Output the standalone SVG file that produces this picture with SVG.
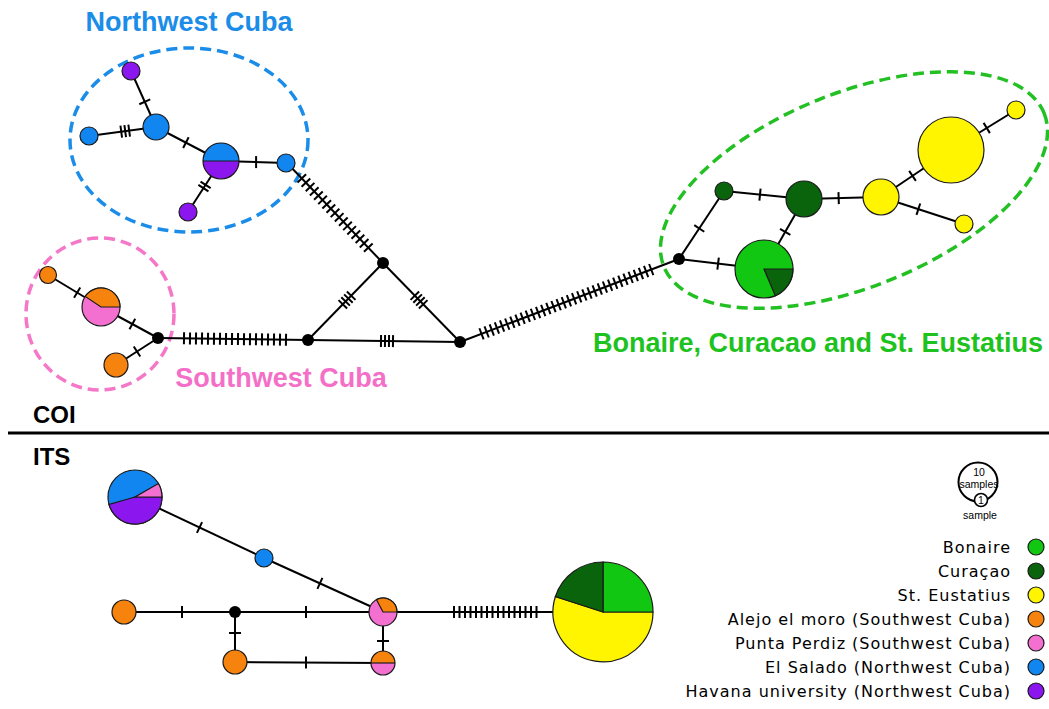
<svg xmlns="http://www.w3.org/2000/svg" width="1049" height="709" viewBox="0 0 1049 709">
<style>
.e{stroke:#000;stroke-width:2;fill:none}
.t1{stroke:#000;stroke-width:12;fill:none}
.tm{stroke:#000;stroke-width:12;fill:none}
.n{stroke:#1a1a1a;stroke-width:1.2}
.blk{fill:#000}
.bl{fill:#1185f0}
.pu{fill:#8b16ee}
.or{fill:#f7830f}
.pk{fill:#f470d0}
.lg{fill:#12c712}
.dg{fill:#0a640c}
.ye{fill:#fff500}
.ttl{font-family:"Liberation Sans",Arial,sans-serif;font-weight:bold;font-size:27px}
.sec{font-family:"Liberation Sans",Arial,sans-serif;font-weight:bold;font-size:24px;fill:#000}
.leg{font-family:"DejaVu Sans",Verdana,sans-serif;font-size:16px;letter-spacing:1px;fill:#000;text-anchor:end}
.sm{font-family:"Liberation Sans",Arial,sans-serif;font-size:10.5px;fill:#000;text-anchor:middle}
.hull{fill:none;stroke-width:3.5;stroke-dasharray:11 6}
</style>
<rect width="1049" height="709" fill="#fff"/>

<!-- cluster outlines and titles -->
<g id="northwest-cuba-group">
<ellipse cx="189" cy="140" rx="119" ry="92" class="hull" stroke="#1b8de8"/>
<text x="189" y="31" class="ttl" fill="#1b8de8" text-anchor="middle">Northwest Cuba</text>
</g>
<g id="southwest-cuba-group">
<ellipse cx="100" cy="314" rx="74" ry="76" class="hull" stroke="#f477c8"/>
<text x="281" y="387" class="ttl" fill="#f46fc8" text-anchor="middle">Southwest Cuba</text>
</g>
<g id="abc-group">
<ellipse cx="854" cy="190" rx="205" ry="97" transform="rotate(-22 854 190)" class="hull" stroke="#22c022"/>
<text x="818" y="352" class="ttl" fill="#1ec21e" text-anchor="middle">Bonaire, Curacao and St. Eustatius</text>
</g>

<!-- section labels -->
<g id="sections">
<text x="33" y="423" class="sec">COI</text>
<line x1="8" y1="433" x2="1049" y2="433" stroke="#000" stroke-width="3"/>
<text x="33" y="465" class="sec">ITS</text>
</g>

<!-- connectors -->
<g id="connectors">
<!-- COI edges -->
<line class="e" x1="131" y1="71" x2="156" y2="127"/>
<line class="e" x1="89" y1="136" x2="156" y2="127"/>
<line class="e" x1="156" y1="127" x2="221" y2="161"/>
<line class="e" x1="221" y1="161" x2="286" y2="163"/>
<line class="e" x1="221" y1="161" x2="188" y2="212"/>
<line class="e" x1="48" y1="275" x2="101" y2="307"/>
<line class="e" x1="101" y1="307" x2="158" y2="338"/>
<line class="e" x1="116" y1="365" x2="158" y2="338"/>
<line class="e" x1="158" y1="338" x2="308" y2="340"/>
<line class="e" x1="287" y1="163" x2="383" y2="263"/>
<line class="e" x1="308" y1="340" x2="383" y2="263"/>
<line class="e" x1="383" y1="263" x2="460" y2="342"/>
<line class="e" x1="308" y1="340" x2="460" y2="342"/>
<line class="e" x1="460" y1="342" x2="679" y2="259"/>
<line class="e" x1="679" y1="259" x2="724" y2="191"/>
<line class="e" x1="724" y1="191" x2="804" y2="199"/>
<line class="e" x1="679" y1="259" x2="764" y2="269"/>
<line class="e" x1="804" y1="199" x2="764" y2="269"/>
<line class="e" x1="804" y1="199" x2="881" y2="197"/>
<line class="e" x1="881" y1="197" x2="951" y2="150"/>
<line class="e" x1="951" y1="150" x2="1016" y2="110"/>
<line class="e" x1="881" y1="197" x2="964" y2="224"/>
<!-- COI ticks -->
<line class="t1" x1="144.34" y1="100.89" x2="145.16" y2="102.71"/>
<line class="t1" x1="120.25" y1="131.77" x2="130.15" y2="130.43" stroke-dasharray="2 2"/>
<line class="t1" x1="185.01" y1="142.14" x2="186.79" y2="143.06"/>
<line class="t1" x1="255.1" y1="162.1" x2="257.1" y2="162.1"/>
<line class="t1" x1="206.13" y1="183.98" x2="202.87" y2="189.02" stroke-dasharray="2 2"/>
<line class="t1" x1="76.29" y1="292.08" x2="78.01" y2="293.12"/>
<line class="t1" x1="131.47" y1="323.57" x2="133.23" y2="324.53"/>
<line class="t1" x1="136.16" y1="352.04" x2="137.84" y2="350.96"/>
<line class="tm" x1="183" y1="338.33" x2="287" y2="339.72" stroke-dasharray="2 4"/>
<line class="tm" x1="301.07" y1="177.64" x2="368.98" y2="248.29" stroke-dasharray="2 4"/>
<line class="tm" x1="342.11" y1="305.01" x2="351.89" y2="294.99" stroke-dasharray="2 2"/>
<line class="tm" x1="414.11" y1="294.99" x2="423.89" y2="305.01" stroke-dasharray="2 2"/>
<line class="tm" x1="380" y1="340.95" x2="394" y2="341.13" stroke-dasharray="2 2"/>
<line class="tm" x1="480.57" y1="334.21" x2="652.14" y2="269.25" stroke-dasharray="2 3.5"/>
<line class="t1" x1="698.70" y1="229.23" x2="699.80" y2="227.57"/>
<line class="t1" x1="759" y1="194.5" x2="761" y2="194.7"/>
<line class="t1" x1="717.1" y1="263.48" x2="719.1" y2="263.72"/>
<line class="t1" x1="785.7" y1="231.03" x2="784.7" y2="232.77"/>
<line class="t1" x1="837.65" y1="198.13" x2="839.65" y2="198.07"/>
<line class="t1" x1="911.67" y1="176.41" x2="913.33" y2="175.29"/>
<line class="t1" x1="985.9" y1="128.52" x2="987.6" y2="127.48"/>
<line class="t1" x1="917.4" y1="208.84" x2="919.3" y2="209.46"/>
<!-- ITS edges -->
<line class="e" x1="135" y1="497" x2="264" y2="558"/>
<line class="e" x1="264" y1="558" x2="383" y2="612"/>
<line class="e" x1="124" y1="612" x2="383" y2="612"/>
<line class="e" x1="235" y1="612" x2="235" y2="662"/>
<line class="e" x1="235" y1="662" x2="383" y2="663"/>
<line class="e" x1="383" y1="612" x2="383" y2="663"/>
<line class="e" x1="383" y1="612" x2="560" y2="612"/>
<!-- ITS ticks -->
<line class="t1" x1="198.6" y1="527.07" x2="200.4" y2="527.93"/>
<line class="t1" x1="319" y1="582.99" x2="320.8" y2="583.81"/>
<line class="t1" x1="181" y1="612" x2="183" y2="612"/>
<line class="t1" x1="305" y1="612" x2="307" y2="612"/>
<line class="t1" x1="235" y1="632" x2="235" y2="634"/>
<line class="t1" x1="305" y1="662.5" x2="307" y2="662.5"/>
<line class="t1" x1="383" y1="640" x2="383" y2="642"/>
<line class="tm" x1="453" y1="612" x2="537.5" y2="612" stroke-dasharray="2 3.5"/>
</g>

<!-- COI nodes -->
<g id="coi-nw-purple-top"><circle cx="131" cy="71" r="9" class="n pu"/></g>
<g id="coi-nw-blue-left"><circle cx="89" cy="136" r="9" class="n bl"/></g>
<g id="coi-nw-blue-hub"><circle cx="156" cy="127" r="13" class="n bl"/></g>
<g id="coi-nw-mixed">
<circle cx="221" cy="161" r="18" class="pu"/>
<path d="M203,161 A18,18 0 0,1 239,161 Z" class="bl"/>
<circle cx="221" cy="161" r="18" class="n" fill="none"/>
<line x1="203" y1="161" x2="239" y2="161" class="n"/>
</g>
<g id="coi-nw-blue-right"><circle cx="286" cy="163" r="9" class="n bl"/></g>
<g id="coi-nw-purple-bottom"><circle cx="188" cy="212" r="9" class="n pu"/></g>

<g id="coi-sw-orange-top"><circle cx="48" cy="275" r="8.5" class="n or"/></g>
<g id="coi-sw-mixed">
<circle cx="101" cy="307" r="19" class="n pk"/>
<path d="M101,307 L120,307 A19,19 0 0,0 85.2,296.4 Z" class="n or"/>
</g>
<g id="coi-sw-orange-bottom"><circle cx="116" cy="365" r="12" class="n or"/></g>
<g id="coi-med-1"><circle cx="158" cy="338" r="6" class="blk"/></g>
<g id="coi-med-2"><circle cx="308" cy="340" r="6" class="blk"/></g>
<g id="coi-med-3"><circle cx="383" cy="263" r="6" class="blk"/></g>
<g id="coi-med-4"><circle cx="460" cy="342" r="6" class="blk"/></g>
<g id="coi-med-5"><circle cx="679" cy="259" r="6" class="blk"/></g>

<g id="coi-dg-small"><circle cx="724" cy="191" r="9" class="n dg"/></g>
<g id="coi-dg-mid"><circle cx="804" cy="199" r="18" class="n dg"/></g>
<g id="coi-lg-big">
<circle cx="764" cy="269" r="29" class="n lg"/>
<path d="M764,269 L793,269 A29,29 0 0,1 775.3,295.7 Z" class="n dg"/>
</g>
<g id="coi-ye-mid"><circle cx="881" cy="197" r="18" class="n ye"/></g>
<g id="coi-ye-big"><circle cx="951" cy="150" r="33" class="n ye"/></g>
<g id="coi-ye-top"><circle cx="1016" cy="110" r="9" class="n ye"/></g>
<g id="coi-ye-bottom"><circle cx="964" cy="224" r="9" class="n ye"/></g>

<!-- ITS nodes -->
<g id="its-nw-big">
<circle cx="135" cy="497" r="27" class="n bl"/>
<path d="M135,497 L162,497 A27,27 0 0,1 109,504.4 Z" class="n pu"/>
<path d="M135,497 L162,497 A27,27 0 0,0 158.4,483.5 Z" class="n pk"/>
</g>
<g id="its-blue-small"><circle cx="264" cy="558" r="9" class="n bl"/></g>
<g id="its-orange-left"><circle cx="124" cy="612" r="12" class="n or"/></g>
<g id="its-median"><circle cx="235" cy="612" r="6" class="blk"/></g>
<g id="its-orange-bottom"><circle cx="235" cy="662" r="12" class="n or"/></g>
<g id="its-pink-orange">
<circle cx="383" cy="612" r="14" class="n pk"/>
<path d="M383,612 L397,612 A14,14 0 0,0 376.4,599.6 Z" class="n or"/>
</g>
<g id="its-half">
<circle cx="383" cy="663" r="12" class="pk"/>
<path d="M371,663 A12,12 0 0,1 395,663 Z" class="or"/>
<circle cx="383" cy="663" r="12" class="n" fill="none"/>
<line x1="371" y1="663" x2="395" y2="663" class="n"/>
</g>
<g id="its-abc-big">
<path d="M603,612 L653,612 A50,50 0 1,1 555.4,596.5 Z" class="n ye"/>
<path d="M603,612 L603,562 A50,50 0 0,1 653,612 Z" class="n lg"/>
<path d="M603,612 L555.4,596.5 A50,50 0 0,1 603,562 Z" class="n dg"/>
</g>

<!-- legend -->
<g id="legend-size">
<circle cx="978" cy="482" r="19.5" fill="#fff" stroke="#000" stroke-width="2"/>
<circle cx="981" cy="500" r="6.5" fill="#fff" stroke="#000" stroke-width="1.6"/>
<text x="979" y="476" class="sm">10</text>
<text x="979" y="488" class="sm">samples</text>
<text x="981" y="504" class="sm" font-size="9.5">1</text>
<text x="980" y="519" class="sm">sample</text>
</g>
<g id="legend-bonaire"><circle cx="1036" cy="547" r="8" class="n lg"/><text x="1011" y="553" class="leg">Bonaire</text></g>
<g id="legend-curacao"><circle cx="1036" cy="571" r="8" class="n dg"/><text x="1011" y="577" class="leg">Curaçao</text></g>
<g id="legend-eustatius"><circle cx="1036" cy="595" r="8" class="n ye"/><text x="1011" y="601" class="leg">St. Eustatius</text></g>
<g id="legend-alejo"><circle cx="1036" cy="619" r="8" class="n or"/><text x="1011" y="625" class="leg">Alejo el moro (Southwest Cuba)</text></g>
<g id="legend-punta"><circle cx="1036" cy="643" r="8" class="n pk"/><text x="1011" y="649" class="leg">Punta Perdiz (Southwest Cuba)</text></g>
<g id="legend-salado"><circle cx="1036" cy="667" r="8" class="n bl"/><text x="1011" y="673" class="leg">El Salado (Northwest Cuba)</text></g>
<g id="legend-havana"><circle cx="1036" cy="691" r="8" class="n pu"/><text x="1011" y="697" class="leg">Havana university (Northwest Cuba)</text></g>
</svg>
